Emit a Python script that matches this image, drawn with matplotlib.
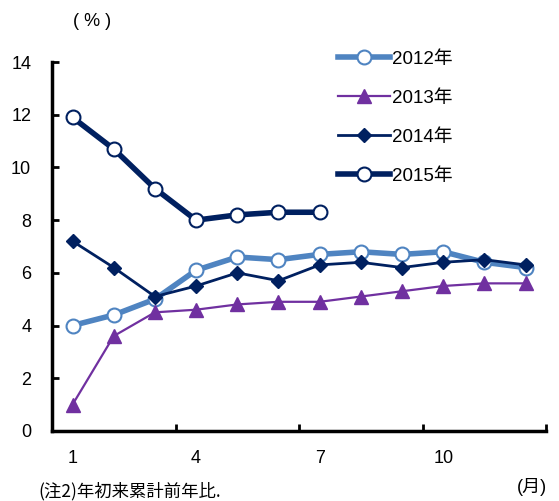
import matplotlib
matplotlib.use('Agg')
import matplotlib.pyplot as plt

plt.rcParams['font.family'] = ['Liberation Sans', 'Noto Sans CJK JP', 'DejaVu Sans']

months = list(range(1, 13))
y2012 = [4.0, 4.4, 5.0, 6.1, 6.6, 6.5, 6.7, 6.8, 6.7, 6.8, 6.4, 6.2]
y2013 = [1.0, 3.6, 4.5, 4.6, 4.8, 4.9, 4.9, 5.1, 5.3, 5.5, 5.6, 5.6]
y2014 = [7.2, 6.2, 5.1, 5.5, 6.0, 5.7, 6.3, 6.4, 6.2, 6.4, 6.5, 6.3]
y2015 = [11.9, 10.7, 9.2, 8.0, 8.2, 8.3, 8.3]
xlabels = ['1', '4', '7', '10']

light = '#4f84c1'
purple = '#7030a0'
navy = '#002060'

fig = plt.figure(figsize=(5.59, 5.01), dpi=100)
ax = fig.add_axes([0.093, 0.140, 0.884, 0.736])

h1, = ax.plot(months, y2012, color=light, lw=4, marker='o', ms=10,
              mfc='white', mec=light, mew=1.5, label='2012年')
h2, = ax.plot(months, y2013, color=purple, lw=1.6, marker='^', ms=10,
              mfc=purple, mec=purple, label='2013年')
h3, = ax.plot(months, y2014, color=navy, lw=2, marker='D', ms=7.5,
              mfc=navy, mec=navy, label='2014年')
h4, = ax.plot(months[:len(y2015)], y2015, color=navy, lw=4, marker='o', ms=10,
              mfc='white', mec=navy, mew=1.5, label='2015年')

ax.set_xlim(0.5, 12.5)
ax.set_ylim(0, 14)
ax.set_yticks(range(0, 15, 2))
ax.set_xticks([3.5, 6.5, 9.5, 12.5])
ax.set_xticklabels([])
ax.set_xticks([1, 4, 7, 10], minor=True)
ax.set_xticklabels(xlabels, minor=True)
ax.tick_params(axis='x', which='minor', length=0, pad=14, labelsize=13)
ax.tick_params(axis='x', which='major', direction='in', length=5, width=2)
ax.tick_params(axis='y', direction='in', length=5, width=2, pad=15, labelsize=13)

for s in ['top', 'right']:
    ax.spines[s].set_visible(False)
for s in ['left', 'bottom']:
    ax.spines[s].set_linewidth(2.5)

fig.legend(handles=[h1, h2, h3, h4], loc='upper left',
           bbox_to_anchor=(0.588, 0.918), frameon=False, fontsize=13.5,
           handlelength=2.75, labelspacing=1.17, handletextpad=0.15,
           borderpad=0)

fig.text(0.13, 0.975, '( % )', fontsize=13, ha='left', va='top')
fig.text(0.925, 0.027, '(月)', fontsize=13, ha='left', va='center')
fig.text(0.068, 0.002, '(注2)年初来累計前年比.', fontsize=12.5, ha='left', va='bottom',
         family=['Noto Sans CJK JP', 'DejaVu Sans'])

fig.savefig('out.png', dpi=100)
